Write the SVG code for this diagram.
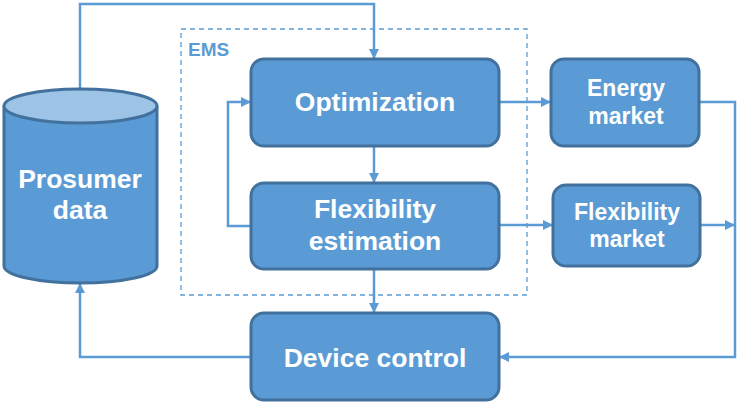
<svg xmlns="http://www.w3.org/2000/svg" width="748" height="403" viewBox="0 0 748 403">
<style>
.box{fill:#5b9bd5;stroke:#41719c;stroke-width:3}
.t{font-family:"Liberation Sans",Arial,sans-serif;font-weight:bold;fill:#fff;text-anchor:middle}
.big{font-size:26.5px}
.sm{font-size:23px}
.c{fill:none;stroke:#5b9bd5;stroke-width:2.5}
</style>
<defs>
<marker id="ah" viewBox="0 0 10 10" refX="10" refY="5" markerWidth="4" markerHeight="4" orient="auto" markerUnits="strokeWidth">
<path d="M0,0 L10,5 L0,10 z" fill="#5b9bd5"/>
</marker>
</defs>
<rect width="748" height="403" fill="#fff"/>
<g id="ems">
<rect x="181" y="29" width="346" height="266" fill="none" stroke="#5b9bd5" stroke-width="1.3" stroke-dasharray="5,4"/>
<text x="188" y="56" font-family="'Liberation Sans',Arial,sans-serif" font-weight="bold" font-size="19" fill="#5b9bd5">EMS</text>
</g>
<g id="connectors">
<path class="c" d="M80,89 V4 H374 V59" marker-end="url(#ah)"/>
<path class="c" d="M374,146 V183" marker-end="url(#ah)"/>
<path class="c" d="M374,269 V313" marker-end="url(#ah)"/>
<path class="c" d="M251,226 H228 V102 H251" marker-end="url(#ah)"/>
<path class="c" d="M499,102 H551" marker-end="url(#ah)"/>
<path class="c" d="M499,225 H553" marker-end="url(#ah)"/>
<path class="c" d="M699,102 H735 V357 H499" marker-end="url(#ah)"/>
<path class="c" d="M700,225 H735" marker-end="url(#ah)"/>
<path class="c" d="M251,357 H80 V283" marker-end="url(#ah)"/>
</g>
<g id="prosumer">
<path d="M4,106 V266 A76.5,17 0 0 0 157,266 V106" fill="#5b9bd5" stroke="#41719c" stroke-width="3"/>
<ellipse cx="80.5" cy="106" rx="76.5" ry="17" fill="#9dc3e6" stroke="#41719c" stroke-width="3"/>
<text class="t big" x="80" y="188">Prosumer</text>
<text class="t big" x="80" y="219">data</text>
</g>
<g id="optimization">
<rect class="box" x="251" y="59" width="248" height="87" rx="13"/>
<text class="t big" x="375" y="111">Optimization</text>
</g>
<g id="flexest">
<rect class="box" x="251" y="183" width="248" height="86" rx="13"/>
<text class="t big" x="375" y="218">Flexibility</text>
<text class="t big" x="375" y="250">estimation</text>
</g>
<g id="device">
<rect class="box" x="251" y="313" width="248" height="87" rx="13"/>
<text class="t big" x="375" y="367">Device control</text>
</g>
<g id="energy">
<rect class="box" x="551" y="59" width="148" height="87" rx="13"/>
<text class="t sm" x="626" y="96">Energy</text>
<text class="t sm" x="626" y="124">market</text>
</g>
<g id="flexmarket">
<rect class="box" x="553" y="185" width="147" height="81" rx="13"/>
<text class="t sm" x="627" y="220">Flexibility</text>
<text class="t sm" x="627" y="247">market</text>
</g>
</svg>
